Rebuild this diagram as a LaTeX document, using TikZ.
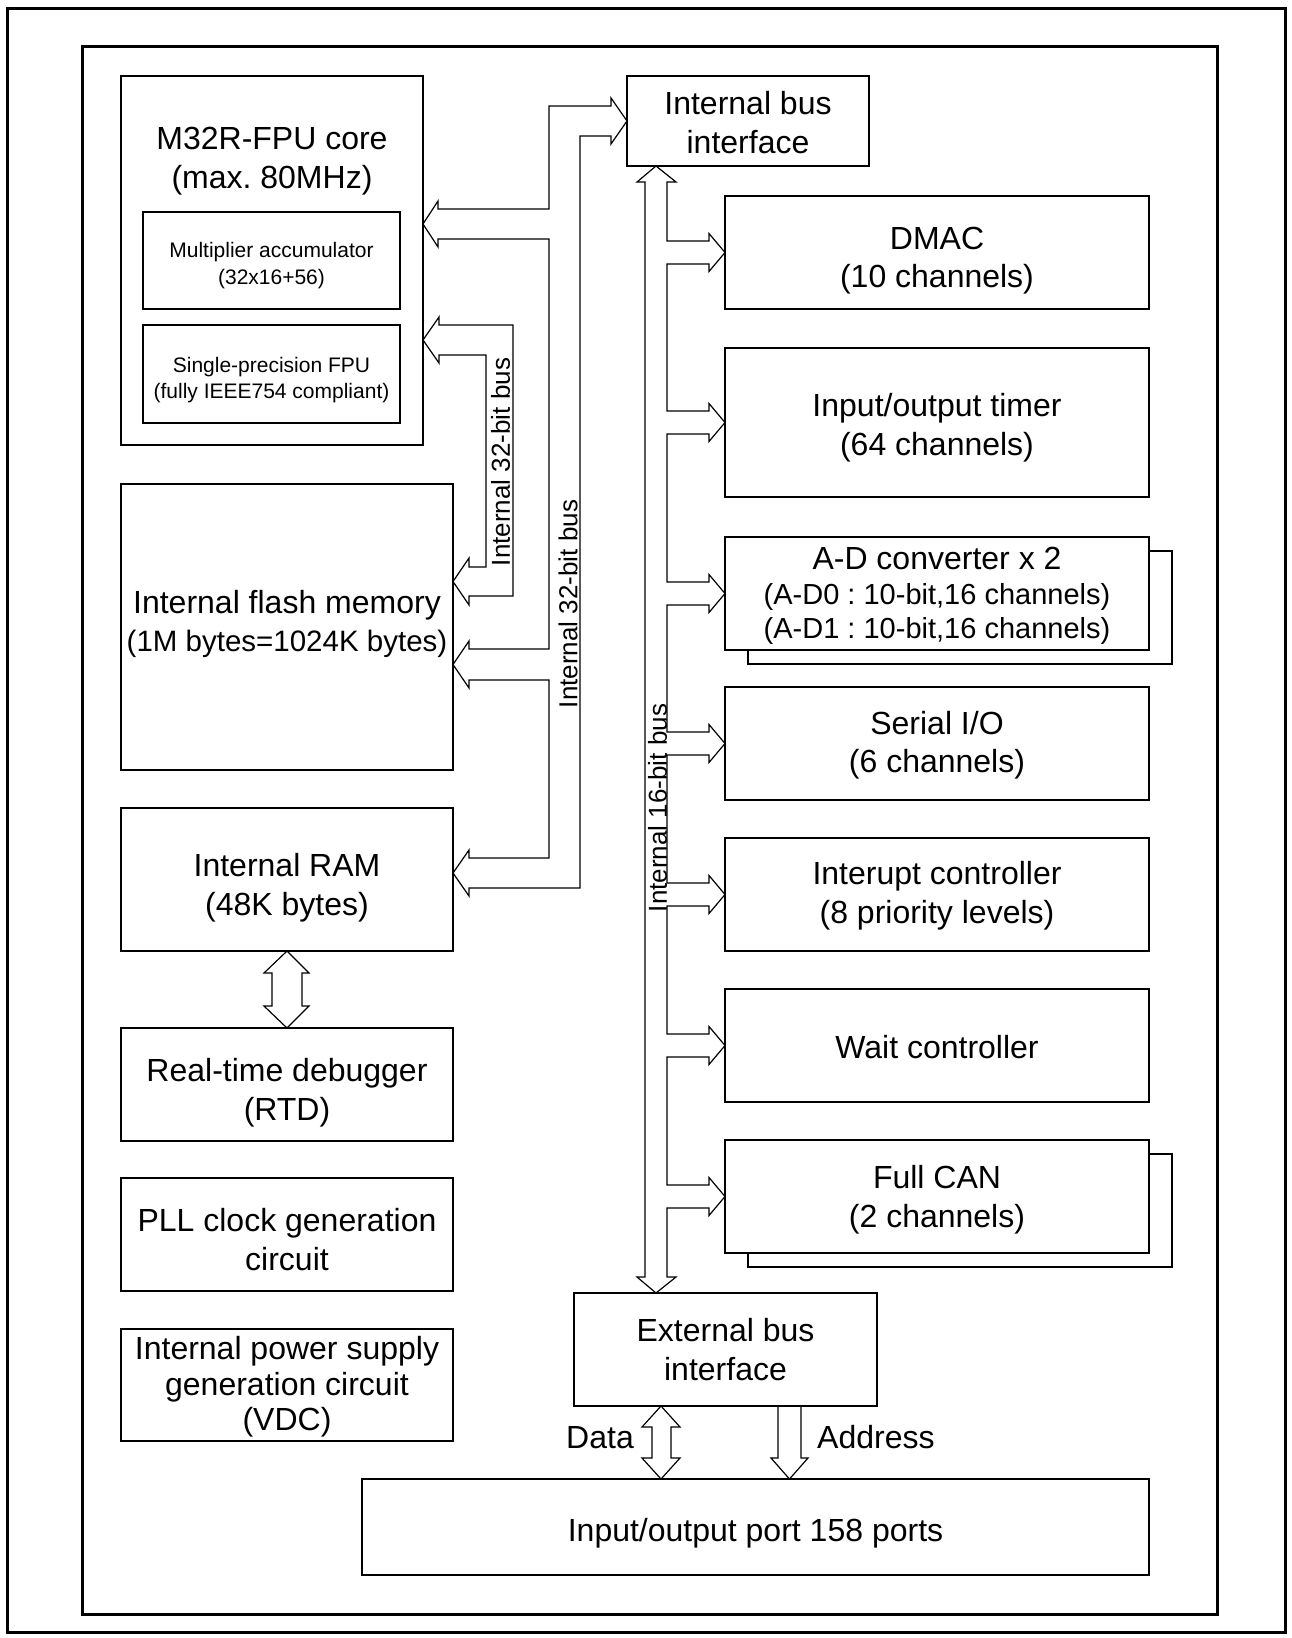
\documentclass[tikz,border=0pt]{standalone}
\usepackage{fontspec}
\setmainfont{Liberation Sans}
\usetikzlibrary{calc}
\frenchspacing
\begin{document}
\begin{tikzpicture}[x=1pt,y=-1pt,
  box/.style={draw, line width=1.3pt, fill=white, inner sep=0pt, outer sep=0pt},
  plain/.style={inner sep=0pt, align=center, font=\fontsize{32}{38.5}\selectfont},
  small/.style={inner sep=0pt, align=center, font=\fontsize{21}{26.5}\selectfont},
  pipe/.style={draw, line width=1.2pt, line join=miter},
  frame/.style={draw, line width=3pt},
  buslabel/.style={rotate=90, inner sep=0pt, font=\fontsize{26}{30}\selectfont},
  shadowline/.style={draw, line width=1.3pt}
]
\useasboundingbox (0,0) rectangle (1292,1638);
% frames
\draw[frame] (7,8) rectangle (1285,1632);
\draw[frame] (82,46) rectangle (1217,1614);

% left column boxes
\node[box, minimum width=302, minimum height=369] (m32r) at (272,260.5) {};
\node[box, minimum width=257, minimum height=97] (mac) at (271.5,260.5) {};
\node[box, minimum width=257, minimum height=98] (fpu) at (271.5,374) {};
\node[box, minimum width=332, minimum height=286] (flash) at (287,627) {};
\node[box, minimum width=332, minimum height=143] (ram) at (287,879.5) {};
\node[box, minimum width=332, minimum height=113] (rtd) at (287,1084.5) {};
\node[box, minimum width=332, minimum height=113] (pll) at (287,1234.5) {};
\node[box, minimum width=332, minimum height=112] (vdc) at (287,1385) {};

% right column boxes
\node[box, minimum width=242, minimum height=90] (ibus) at (748,121) {};
\node[box, minimum width=424, minimum height=113] (dmac) at (937,252.5) {};
\node[box, minimum width=424, minimum height=149] (timer) at (937,422.5) {};
\node[box, minimum width=424, minimum height=113] (adc) at (937,593.5) {};
\node[box, minimum width=424, minimum height=113] (sio) at (937,743.5) {};
\node[box, minimum width=424, minimum height=113] (intc) at (937,894.5) {};
\node[box, minimum width=424, minimum height=113] (waitc) at (937,1045.5) {};
\node[box, minimum width=424, minimum height=113] (can) at (937,1196.5) {};
\node[box, minimum width=303, minimum height=113] (ebus) at (725.5,1349.5) {};
\node[box, minimum width=787, minimum height=96] (port) at (755.5,1527) {};

% box texts
\node[plain] (m32rtxt) at ($(m32r.north)+(0,85)$) {M32R-FPU core\\(max. 80MHz)};
\node[small] (mactxt) at ($(mac.center)+(0,5)$) {Multiplier accumulator\\(32x16+56)};
\node[small] (fputxt) at ($(fpu.center)+(0,6)$) {Single-precision FPU\\(fully IEEE754 compliant)};
\node[plain] (flashtxt) at ($(flash.center)+(0,-3)$) {Internal flash memory\\{\fontsize{29.5}{35}\selectfont (1M bytes=1024K bytes)}};
\node[plain] (ramtxt) at ($(ram.center)+(0,8)$) {Internal RAM\\(48K bytes)};
\node[plain] (rtdtxt) at ($(rtd.center)+(0,8)$) {Real-time debugger\\(RTD)};
\node[plain] (plltxt) at ($(pll.center)+(0,5)$) {PLL clock generation\\circuit};
\node[plain, font=\fontsize{32}{35.5}\selectfont] (vdctxt) at ($(vdc.center)+(0,2)$) {Internal power supply\\generation circuit\\(VDC)};
\node[plain] (ibustxt) at ($(ibus.center)+(0,1.5)$) {Internal bus\\interface};
\node[plain] (dmactxt) at ($(dmac.center)+(0,8)$) {DMAC\\(10 channels)};
\node[plain] (timertxt) at ($(timer.center)+(0,5)$) {Input/output timer\\(64 channels)};
\node[plain, font=\fontsize{29}{34.5}\selectfont] (adctxt) at ($(adc.center)+(0,2.5)$) {{\fontsize{32}{38.5}\selectfont A-D converter x 2}\\(A-D0 : 10-bit,16 channels)\\(A-D1 : 10-bit,16 channels)};
\node[plain] (siotxt) at ($(sio.center)+(0,1.5)$) {Serial I/O\\(6 channels)};
\node[plain] (intctxt) at ($(intc.center)+(0,1)$) {Interupt controller\\(8 priority levels)};
\node[plain] (waittxt) at ($(waitc.center)+(0,2)$) {Wait controller};
\node[plain] (cantxt) at ($(can.center)+(0,3)$) {Full CAN\\(2 channels)};
\node[plain] (ebustxt) at (ebus.center) {External bus\\interface};
\node[plain] (porttxt) at ($(port.center)+(0,6)$) {Input/output port 158 ports};

% shadows of stacked boxes
\foreach \b in {adc,can}{
  \draw[shadowline] ($(\b.north east)+(0,14)$) -- ($(\b.north east)+(23,14)$) -- ($(\b.south east)+(23,14)$) -- ($(\b.south west)+(23,14)$) -- ($(\b.south west)+(23,0)$);
}

% right internal 32-bit bus (M32R, bus interface, flash, RAM)
\draw[pipe] (m32r.east |- 0,224) -- (438,201) -- (438,209) -- (549,209) -- (549,106) -- (611,106) -- (611,98)
  -- (ibus.west) -- (611,144) -- (611,136) -- (580,136) -- (580,888) -- (469,888) -- (469,896)
  -- (ram.east |- 0,873) -- (469,850) -- (469,858) -- (549,858) -- (549,680) -- (469,680) -- (469,688)
  -- (flash.east |- 0,664.5) -- (469,641) -- (469,649) -- (549,649) -- (549,239) -- (438,239) -- (438,247) -- cycle;

% left internal 32-bit bus (M32R/FPU, flash)
\draw[pipe] (m32r.east |- 0,340) -- (439,317) -- (439,325) -- (513,325) -- (513,596) -- (469,596) -- (469,605)
  -- (flash.east |- 0,581.5) -- (469,558) -- (469,567) -- (486,567) -- (486,355) -- (439,355) -- (439,363) -- cycle;

% internal 16-bit bus
\draw[pipe] (645,182) -- (637,182) -- (ibus.south -| 656,0) -- (676,182) -- (667,182)
  \foreach \b in {dmac,timer,adc,sio,intc,waitc,can}{
    -- ($(\b.west)+(-58,-11.5)$) -- ($(\b.west)+(-16,-11.5)$) -- ($(\b.west)+(-16,-19)$) -- (\b.west)
    -- ($(\b.west)+(-16,19)$) -- ($(\b.west)+(-16,11.5)$) -- ($(\b.west)+(-58,11.5)$)
  }
  -- (667,1277) -- (676,1277) -- (ebus.north -| 656,0) -- (637,1277) -- (645,1277) -- cycle;

% RAM <-> RTD
\draw[pipe] (ram.south) -- (309,973) -- (302,973) -- (302,1006) -- (309,1006) -- (rtd.north)
  -- (264,1006) -- (272,1006) -- (272,973) -- (264,973) -- cycle;

% Data
\draw[pipe] (ebus.south -| 661,0) -- (680,1427) -- (671,1427) -- (671,1458) -- (680,1458) -- (port.north -| 661,0)
  -- (642,1458) -- (652,1458) -- (652,1427) -- (642,1427) -- cycle;
% Address
\draw[pipe] (ebus.south -| 778,0) -- (778,1458) -- (771,1458) -- (port.north -| 789.5,0) -- (808,1458) -- (801,1458) -- (ebus.south -| 801,0);

% labels
\node[buslabel] (lbl32a) at (500.5,462) {Internal 32-bit bus};
\node[buslabel] (lbl32b) at (568,604) {Internal 32-bit bus};
\node[buslabel] (lbl16) at (657.5,808) {Internal 16-bit bus};
\node[plain, anchor=base east] (datalbl) at (634,1448) {Data};
\node[plain, anchor=base west] (addrlbl) at (817,1448) {Address};
\end{tikzpicture}
\end{document}
